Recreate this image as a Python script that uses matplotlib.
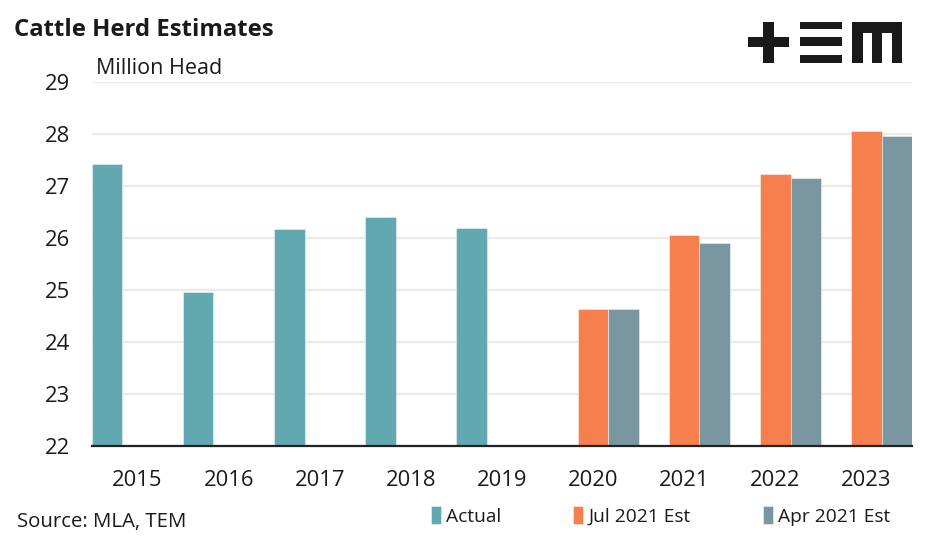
import matplotlib
matplotlib.use("Agg")
import matplotlib.pyplot as plt
from matplotlib.patches import Rectangle
import numpy as np

plt.rcParams['font.family'] = ['Open Sans', 'DejaVu Sans']

years = ["2015", "2016", "2017", "2018", "2019", "2020", "2021", "2022", "2023"]
actual = [27.42, 24.96, 26.17, 26.40, 26.19, None, None, None, None]
jul_est = [None, None, None, None, None, 24.63, 26.05, 27.24, 28.05]
apr_est = [None, None, None, None, None, 24.63, 25.91, 27.16, 27.97]
series_names = ["Actual", "Jul 2021 Est", "Apr 2021 Est"]
colors = ["#62A8B0", "#F5804D", "#7A96A0"]

fig = plt.figure(figsize=(9.47, 5.39), dpi=100)
ax = fig.add_axes([92/947, 1-446/539, 820/947, 364/539])

x = np.arange(len(years))
w = 1/3
base = 22
for k, (vals, name, c) in enumerate(zip([actual, jul_est, apr_est], series_names, colors)):
    xs = [xi + (k-1)*w for xi, v in zip(x, vals) if v is not None]
    hs = [v - base for v in vals if v is not None]
    ax.bar(xs, hs, width=w, bottom=base, color=c, label=name, zorder=3,
           edgecolor='#f4f4f4', linewidth=0.4)

ax.set_xlim(-0.5, len(years)-0.5)
ax.set_ylim(22, 29)
ax.set_yticks(range(22, 30))
ax.set_xticks(x)
ax.set_xticklabels(years)
ax.grid(axis='y', color='#EDECE4', linewidth=1.6, zorder=0)
ax.set_axisbelow(True)
for s in ['top', 'right', 'left']:
    ax.spines[s].set_visible(False)
ax.spines['bottom'].set_color('#222222')
ax.spines['bottom'].set_linewidth(1.6)
ax.spines['bottom'].set_zorder(4)
ax.tick_params(axis='both', length=0, labelsize=15.8, colors='#1a1a1a')
ax.tick_params(axis='y', pad=16)
ax.tick_params(axis='x', pad=17)

fig.text(14/947, 1-30/539, "Cattle Herd Estimates", fontsize=17.2, fontweight='bold',
         color='#1a1a1a', va='center', ha='left')
fig.text(96/947, 1-68/539, "Million Head", fontsize=15.5, color='#1a1a1a', va='center', ha='left')
fig.text(17/947, 1-522/539, "Source: MLA, TEM", fontsize=14.7, color='#1a1a1a', va='center', ha='left')

leg = fig.legend(loc='center left', bbox_to_anchor=(431/947, 1-516/539), ncol=3, frameon=False,
                 fontsize=13.8, handlelength=0.5, handleheight=1.05, handletextpad=0.3,
                 columnspacing=3.75, borderaxespad=0, borderpad=0)
for t in leg.get_texts():
    t.set_color('#1a1a1a')

# logo
def rect(x0, y0, x1, y1):
    fig.patches.append(Rectangle((x0/947, 1-y1/539), (x1-x0)/947, (y1-y0)/539,
                                 transform=fig.transFigure, color='#1a1a1a', lw=0))
rect(748, 37, 789, 47)
rect(763, 22, 774, 63)
rect(800, 22, 842, 29)
rect(800, 37, 842, 46)
rect(800, 55, 842, 63)
rect(852, 22, 902, 33)
rect(852, 22, 863, 63)
rect(872, 22, 882, 63)
rect(892, 22, 902, 63)

fig.savefig("out.png", dpi=100)
